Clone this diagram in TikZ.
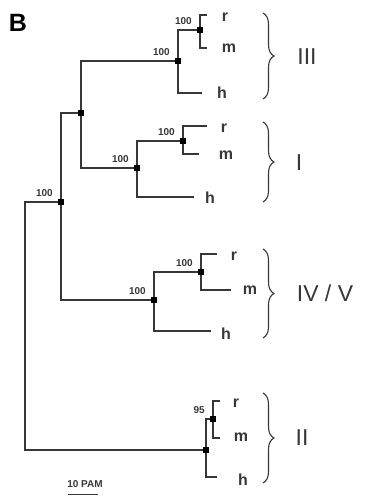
\documentclass[tikz,border=0pt]{standalone}
\usepackage{fontspec}
\setmainfont{Liberation Sans}
\usetikzlibrary{decorations.pathreplacing}
\definecolor{treegray}{RGB}{55,55,55}

\begin{document}
\begin{tikzpicture}[x=1pt,y=-1pt,
  branch/.style={draw=treegray,line width=1.2pt},
  sq/.style={fill=black,minimum size=6.5pt,inner sep=0pt},
  boot/.style={font=\fontsize{10}{10}\selectfont\bfseries,text=treegray,
    inner sep=2pt,anchor=south east},
  leaf/.style={font=\fontsize{16}{16}\selectfont\bfseries,text=treegray},
  clade/.style={font=\fontsize{23}{23}\selectfont,text=treegray},
  grp/.style={draw=treegray,line width=1.1pt,decorate,
    decoration={brace,amplitude=11pt}}
]
  \useasboundingbox (0,0) rectangle (365,496);
  \node[font=\fontsize{25}{25}\selectfont\bfseries] (panel) at (18,23) {B};

  % inner nodes
  \coordinate (root) at (25,326);
  \coordinate (nA) at (61,202);
  \coordinate (nB) at (81,113);
  \coordinate (n3) at (178,61);
  \coordinate (n3i) at (200,30);
  \coordinate (n1) at (137,168);
  \coordinate (n1i) at (183,141);
  \coordinate (n45) at (154,300);
  \coordinate (n45i) at (201,272);
  \coordinate (n2) at (206,450);
  \coordinate (n2i) at (213,419);

  % tips
  \coordinate (r3) at (207,15);   \coordinate (m3) at (207,48);   \coordinate (h3) at (202,93);
  \coordinate (r1) at (207,126);  \coordinate (m1) at (199,154);  \coordinate (h1) at (194,197);
  \coordinate (r45) at (217,254); \coordinate (m45) at (231,290); \coordinate (h45) at (211,331);
  \coordinate (r2) at (220,401);  \coordinate (m2) at (220,438);  \coordinate (h2) at (217,477);

  % branches
  \draw[branch] (nA) -| (root) |- (n2);
  \draw[branch] (nB) -| (nA) |- (n45);
  \draw[branch] (n3) -| (nB) |- (n1);
  \draw[branch] (n3i) -| (n3) |- (h3);
  \draw[branch] (r3) -| (n3i) |- (m3);
  \draw[branch] (n1i) -| (n1) |- (h1);
  \draw[branch] (r1) -| (n1i) |- (m1);
  \draw[branch] (n45i) -| (n45) |- (h45);
  \draw[branch] (r45) -| (n45i) |- (m45);
  \draw[branch] (n2i) -| (n2) |- (h2);
  \draw[branch] (r2) -| (n2i) |- (m2);

  \foreach \n in {nA,nB,n3,n3i,n1,n1i,n45,n45i,n2,n2i}
    \node[sq] at (\n) {};
  \foreach \n/\v in {nA/100,n3/100,n3i/100,n1/100,n1i/100,n45/100,n45i/100,n2i/95}
    \node[boot] at ([xshift=-6pt,yshift=3pt]\n) {\v};

  % tip labels
  \node[leaf] (lr3) at (225,17) {r};   \node[leaf] (lm3) at (229,48) {m};   \node[leaf] (lh3) at (222,93) {h};
  \node[leaf] (lr1) at (224,128) {r};  \node[leaf] (lm1) at (226,155) {m};  \node[leaf] (lh1) at (210,198) {h};
  \node[leaf] (lr45) at (234,256) {r}; \node[leaf] (lm45) at (250,290) {m}; \node[leaf] (lh45) at (226,334) {h};
  \node[leaf] (lr2) at (236,403) {r};  \node[leaf] (lm2) at (241,437) {m};  \node[leaf] (lh2) at (243,480) {h};

  % clades
  \coordinate (g3a) at (263,13);  \coordinate (g3b) at (263,99);
  \coordinate (g1a) at (263,122); \coordinate (g1b) at (263,202);
  \coordinate (g45a) at (263,249); \coordinate (g45b) at (263,338);
  \coordinate (g2a) at (263,393); \coordinate (g2b) at (263,483);
  \draw[grp] (g3a) -- (g3b);
  \draw[grp] (g1a) -- (g1b);
  \draw[grp] (g45a) -- (g45b);
  \draw[grp] (g2a) -- (g2b);
  \node[clade] (c3) at (307,57) {III};
  \node[clade] (c1) at (299,163) {I};
  \node[clade] (c45) at (325,293) {IV / V};
  \node[clade] (c2) at (302,438) {II};

  % scale bar
  \node[font=\fontsize{10}{10}\selectfont\bfseries,text=treegray] (pam) at (85,484) {10 PAM};
  \coordinate (barL) at (68,494.5); \coordinate (barR) at (98,494.5);
  \draw[branch] (barL) -- (barR);
\end{tikzpicture}
\end{document}
